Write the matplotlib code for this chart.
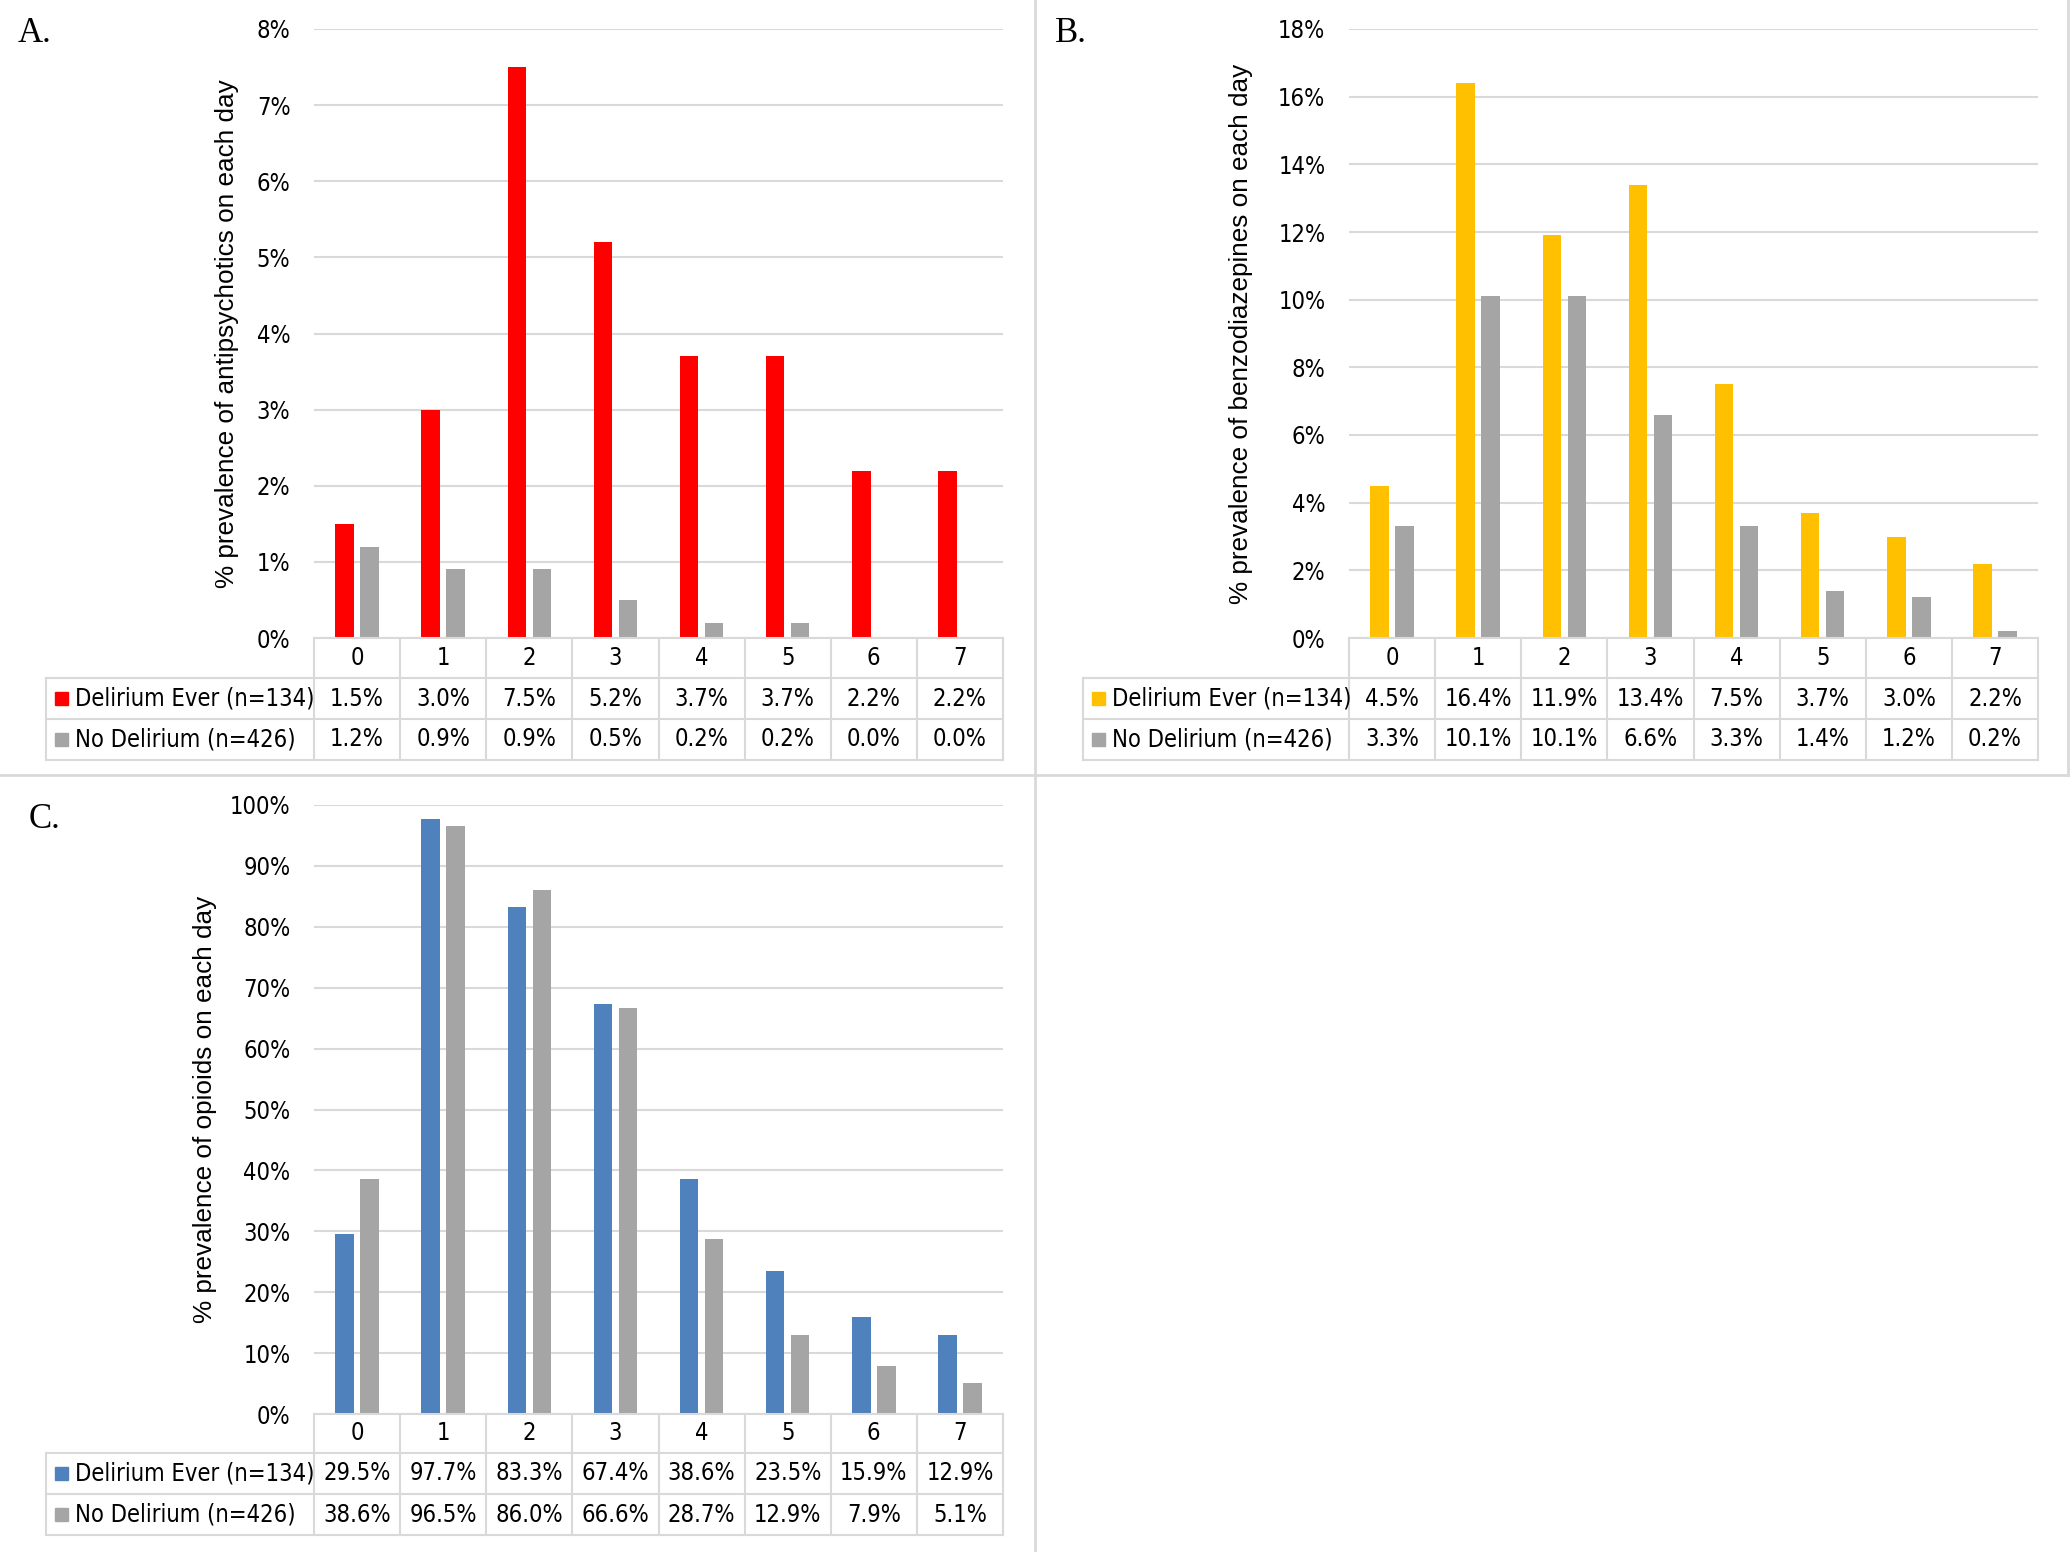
import matplotlib
matplotlib.use("Agg")
import matplotlib.pyplot as plt
from matplotlib.lines import Line2D
from matplotlib.patches import Rectangle

# --- Data ---
days = ['0', '1', '2', '3', '4', '5', '6', '7']
series_names = ['Delirium Ever (n=134)', 'No Delirium (n=426)']

antipsych_delirium = [1.5, 3.0, 7.5, 5.2, 3.7, 3.7, 2.2, 2.2]
antipsych_none = [1.2, 0.9, 0.9, 0.5, 0.2, 0.2, 0.0, 0.0]

benzo_delirium = [4.5, 16.4, 11.9, 13.4, 7.5, 3.7, 3.0, 2.2]
benzo_none = [3.3, 10.1, 10.1, 6.6, 3.3, 1.4, 1.2, 0.2]

opioid_delirium = [29.5, 97.7, 83.3, 67.4, 38.6, 23.5, 15.9, 12.9]
opioid_none = [38.6, 96.5, 86.0, 66.6, 28.7, 12.9, 7.9, 5.1]

W, H = 2070, 1552
GRID = '#D9D9D9'
GRAY = '#A5A5A5'
TXT = dict(family='DejaVu Sans', fontstretch='condensed', fontsize=17)

fig = plt.figure(figsize=(W / 100, H / 100), dpi=100)


def fx(x):
    return x / W


def fy(y):
    return 1 - y / H


def hline(x0, x1, y, lw=1.5):
    fig.add_artist(Line2D([fx(x0), fx(x1)], [fy(y), fy(y)], color=GRID, lw=lw,
                          transform=fig.transFigure))


def vline(x, y0, y1, lw=1.5):
    fig.add_artist(Line2D([fx(x), fx(x)], [fy(y0), fy(y1)], color=GRID, lw=lw,
                          transform=fig.transFigure))


def panel(letter, letter_xy, left, right, top, bottom, rows, leg_left,
          ymax, ystep, ylabel, ylabel_x, vals_a, vals_b, color_a):
    ax = fig.add_axes([fx(left), fy(bottom), fx(right - left), (bottom - top) / H])
    x = list(range(len(days)))
    ax.bar([i - 0.145 for i in x], vals_a, width=0.215, color=color_a, zorder=3)
    ax.bar([i + 0.145 for i in x], vals_b, width=0.215, color=GRAY, zorder=3)
    ax.set_xlim(-0.5, len(days) - 0.5)
    ax.set_ylim(0, ymax)
    ticks = list(range(0, ymax + 1, ystep))
    ax.set_yticks(ticks)
    ax.set_yticklabels([f'{t}%' for t in ticks], **TXT)
    ax.set_xticks([])
    ax.tick_params(axis='y', length=0, pad=17)
    ax.grid(axis='y', color=GRID, lw=1.5, zorder=0)
    for s in ax.spines.values():
        s.set_visible(False)

    # y axis title
    fig.text(fx(ylabel_x), fy((top + bottom) / 2), ylabel, rotation=90,
             ha='center', va='center', family=['Liberation Sans', 'DejaVu Sans'],
             fontsize=18.8)
    # panel letter
    fig.text(fx(letter_xy[0]), fy(letter_xy[1]), letter, ha='left', va='center',
             family=['Liberation Serif', 'DejaVu Serif'], fontsize=25)

    # data table below the plot
    r0, r1, r2, r3 = rows
    colw = (right - left) / len(days)
    hline(left, right, r0)
    hline(leg_left, right, r1)
    hline(leg_left, right, r2)
    hline(leg_left, right, r3)
    for k in range(len(days) + 1):
        vline(left + k * colw, r0, r3)
    vline(leg_left, r1, r3)
    for k, d in enumerate(days):
        cx = left + (k + 0.5) * colw
        fig.text(fx(cx), fy((r0 + r1) / 2), d, ha='center', va='center', **TXT)
        fig.text(fx(cx), fy((r1 + r2) / 2), f'{vals_a[k]:.1f}%', ha='center',
                 va='center', **TXT)
        fig.text(fx(cx), fy((r2 + r3) / 2), f'{vals_b[k]:.1f}%', ha='center',
                 va='center', **TXT)
    for (ya, yb), name, c in zip([(r1, r2), (r2, r3)], series_names, [color_a, GRAY]):
        yc = (ya + yb) / 2
        sq = 13
        fig.add_artist(Rectangle((fx(leg_left + 9), fy(yc + sq / 2)), sq / W, sq / H,
                                 color=c, transform=fig.transFigure))
        fig.text(fx(leg_left + 29), fy(yc), name, ha='left', va='center', **TXT)
    return ax


panel('A.', (18, 33), 314, 1003, 29, 638, (638, 678, 719, 760), 46,
      8, 1, '% prevalence of antipsychotics on each day', 227,
      antipsych_delirium, antipsych_none, '#FF0000')
panel('B.', (1055, 33), 1349, 2038, 29, 638, (638, 678, 719, 760), 1083,
      18, 2, '% prevalence of benzodiazepines on each day', 1241,
      benzo_delirium, benzo_none, '#FFC000')
panel('C.', (29, 820), 314, 1003, 805, 1414, (1414, 1453, 1494, 1535), 46,
      100, 10, '% prevalence of opioids on each day', 205,
      opioid_delirium, opioid_none, '#4F81BD')

# panel frames
vline(1035, 0, H, lw=2)
hline(0, W, 775, lw=2)
vline(2068, 0, 775, lw=2)

fig.savefig('out.png', dpi=100)
